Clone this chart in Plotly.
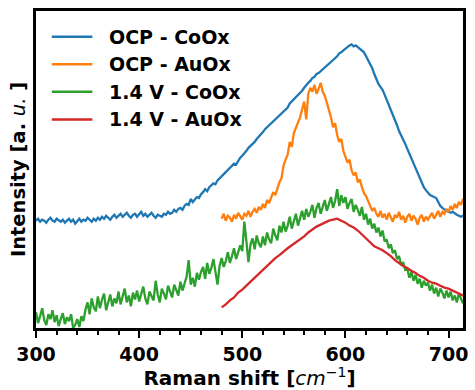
import plotly.graph_objects as go

# Raman shift sampling grids (cm^-1)
shift_full = list(range(300, 717, 2))    # 300 ... 716, step 2
shift_au = list(range(480, 717, 2))      # 480 ... 716, step 2
shift_au_coarse = list(range(480, 717, 4))  # 480 ... 716, step 4

# Intensities (arbitrary units)
ocp_coox = [
    109, 111, 108, 110, 109, 107, 110, 112, 109, 108,
    111, 109, 108, 110, 107, 109, 111, 108, 110, 106,
    109, 111, 108, 110, 109, 112, 110, 108, 111, 109,
    112, 110, 113, 111, 114, 112, 110, 113, 115, 112,
    114, 116, 113, 115, 117, 114, 112, 115, 116, 113,
    116, 118, 114, 116, 113, 115, 117, 114, 112, 115,
    114, 113, 116, 115, 118, 116, 117, 120, 118, 121,
    122, 120, 124, 126, 125, 131, 128, 130, 133, 132,
    136, 138, 141, 139, 143, 145, 147, 146, 150, 152,
    154, 156, 158, 161, 162, 164, 167, 166, 170, 173,
    175, 177, 180, 183, 185, 186, 189, 192, 194, 197,
    199, 202, 204, 206, 209, 211, 213, 215, 217, 218,
    221, 222, 224, 228, 230, 232, 234, 237, 239, 241,
    244, 247, 249, 251, 254, 255, 258, 259, 261, 262,
    265, 266, 268, 271, 272, 275, 276, 279, 280, 282,
    284, 286, 287, 288, 286, 287, 285, 284, 282, 280,
    276, 272, 268, 264, 258, 253, 248, 245, 242, 237,
    232, 227, 222, 217, 211, 206, 200, 196, 192, 187,
    182, 177, 172, 167, 162, 158, 153, 148, 143, 140,
    137, 135, 134, 133, 132, 128, 124, 122, 120, 119,
    118, 117, 118, 116, 115, 114, 113, 114, 112,
]

ocp_auox = [
    111, 116, 109, 114, 112, 108, 115, 111, 117, 113,
    110, 116, 114, 119, 113, 118, 121, 117, 123, 120,
    126, 122, 130, 127, 133, 138, 135, 143, 148, 152,
    165, 171, 176, 189, 184, 198, 203, 208, 214, 222,
    230, 212, 238, 244, 240, 247, 238, 243, 249, 240,
    236, 229, 222, 214, 204, 208, 196, 189, 192, 180,
    174, 168, 171, 160, 155, 158, 148, 151, 143, 137,
    134, 128, 124, 119, 122, 116, 113, 119, 112, 116,
    110, 117, 113, 108, 115, 112, 118, 110, 114, 107,
    113, 116, 109, 114, 111, 105, 112, 115, 108, 113,
    110, 114, 117, 111, 115, 119, 113, 118, 116, 121,
    118, 124, 120, 126, 122, 128, 125, 131, 127,
]

v14_coox = [
    16, 5, 12, 20, 8, 3, 14, 9, 18, 6,
    13, 2, 9, 15, 4, 11, 7, 14, 0, 3,
    9, 1, 12, 7, 19, 26, 14, 30, 21, 17,
    32, 20, 29, 35, 18, 27, 34, 22, 30, 25,
    37, 24, 31, 40, 26, 33, 22, 36, 29, 38,
    27, 35, 42, 30, 24, 37, 32, 28, 48, 34,
    26, 40, 35, 29, 43, 36, 31, 44, 38, 33,
    47, 38, 45, 52, 69, 44, 51, 42, 56, 49,
    57, 62, 50, 66, 55, 61, 70, 58, 44, 63,
    71, 62, 68, 77, 66, 73, 81, 70, 76, 84,
    78, 108, 88, 67, 85, 91, 80, 94, 86, 82,
    93, 84, 97, 90, 86, 101, 94, 89, 104, 97,
    108, 98, 104, 113, 101, 109, 116, 104, 111, 119,
    110, 121, 113, 118, 125, 112, 122, 127, 116, 124,
    130, 119, 127, 133, 122, 129, 141, 124, 135, 127,
    133, 121, 127, 131, 118, 125, 120, 114, 123, 110,
    116, 105, 111, 101, 106, 97, 102, 93, 99, 88,
    90, 81, 85, 76, 79, 70, 73, 64, 67, 59,
    60, 51, 57, 48, 54, 45, 50, 41, 48, 43,
    46, 38, 44, 35, 41, 32, 40, 36, 30, 38,
    31, 37, 28, 33, 26, 35, 30, 25, 31,
]

v14_auox = [
    21, 24, 28, 31, 36, 39, 43, 47, 51, 55,
    59, 63, 67, 71, 74, 78, 81, 84, 87, 90,
    93, 97, 100, 103, 105, 107, 109, 110, 111, 109,
    107, 104, 102, 99, 95, 91, 86, 83, 81, 79,
    76, 73, 69, 66, 63, 61, 58, 56, 53, 51,
    48, 46, 45, 43, 41, 40, 38, 36, 34, 32,
]

series_names = ["OCP - CoOx", "OCP - AuOx", "1.4 V - CoOx", "1.4 V - AuOx"]
series_colors = ["#1f77b4", "#ff7f0e", "#2ca02c", "#d62728"]
series_x = [shift_full, shift_au, shift_full, shift_au_coarse]
series_y = [ocp_coox, ocp_auox, v14_coox, v14_auox]

FONT = "DejaVu Sans"

fig = go.Figure()
for name, color, xs, ys in zip(series_names, series_colors, series_x, series_y):
    fig.add_trace(go.Scatter(
        x=xs, y=ys, mode="lines", name=name,
        line=dict(color=color, width=2.3),
        showlegend=False,
    ))

# Legend drawn as line samples plus bold labels in the upper-left corner
legend_rows = [0.919, 0.832, 0.745, 0.658]
for name, color, yy in zip(series_names, series_colors, legend_rows):
    fig.add_shape(type="line", xref="paper", yref="paper",
                  x0=0.037, x1=0.132, y0=yy, y1=yy,
                  line=dict(color=color, width=2.5))
    fig.add_annotation(xref="paper", yref="paper", x=0.167, y=yy,
                       text=name, showarrow=False,
                       xanchor="left", yanchor="middle",
                       font=dict(family=FONT, size=19, color="black",
                                 weight="bold"))

fig.update_layout(
    width=475, height=390,
    margin=dict(l=36, r=7, t=11, b=57),
    paper_bgcolor="white", plot_bgcolor="white",
    font=dict(family=FONT, color="black"),
    showlegend=False,
)

fig.update_xaxes(
    range=[300, 714],
    showgrid=False, zeroline=False,
    showline=True, linecolor="black", linewidth=2.5, mirror=True,
    ticks="outside", ticklen=7, tickwidth=2, tickcolor="black",
    tickvals=[300, 400, 500, 600, 700],
    tickfont=dict(family=FONT, size=19, color="black", weight="bold"),
    minor=dict(dtick=20, tick0=300, ticks="outside", ticklen=4,
               tickwidth=1.5, tickcolor="black"),
    title=dict(text="<b>Raman shift [</b><i>cm</i><sup>\u22121</sup><b>]</b>",
               font=dict(family=FONT, size=20, color="black"),
               standoff=4),
)

fig.update_yaxes(
    range=[0, 322],
    showgrid=False, zeroline=False,
    showline=True, linecolor="black", linewidth=2.5, mirror=True,
    ticks="", showticklabels=False,
    title=dict(text="<b>Intensity [a. </b><i>u.</i><b> ]</b>",
               font=dict(family=FONT, size=19.5, color="black"),
               standoff=3),
)

fig.write_html("out.html")
